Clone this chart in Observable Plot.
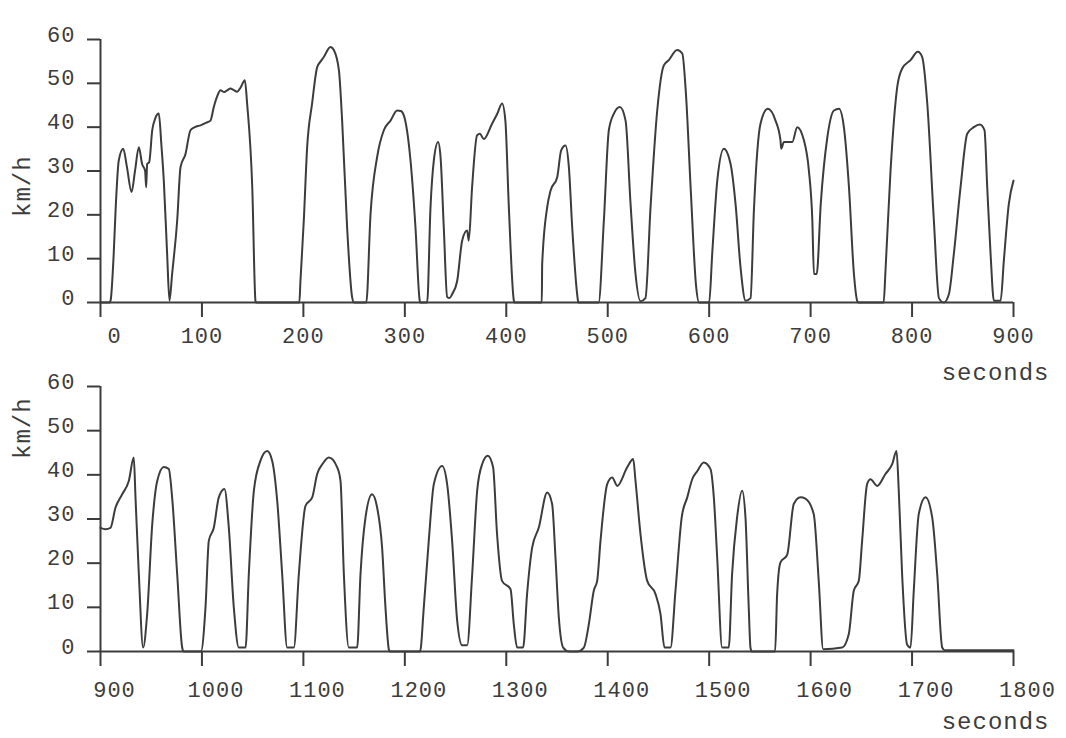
<!DOCTYPE html>
<html>
<head>
<meta charset="utf-8">
<script src="https://cdn.jsdelivr.net/npm/d3@7"></script>
<script src="https://cdn.jsdelivr.net/npm/@observablehq/plot@0.6"></script>
<style>
  body { margin: 0; background: #fff; }
  #chart { width: 1066px; height: 738px; position: relative; }
  #chart svg { overflow: visible; display: block; }
  #chart svg text { letter-spacing: 1px; }
</style>
</head>
<body>
<div id="chart"></div>
<script>
// ---------- data (seconds, km/h) ----------
const topTime = [0, 9, 10, 13, 15, 18, 22.4, 26, 30.6, 34, 37.8, 41, 44, 45, 46, 48, 51, 54, 57.5, 60, 62.4, 65.7, 68, 70.6, 75.6, 78.9, 83.8, 88.7, 93, 98.6, 104, 108.4, 111.7, 115, 118.3, 122, 124.9, 128.2, 131, 134.8, 138, 142.3, 144.6, 149.6, 152.8, 153.5,
  196, 197.1, 200.4, 203.7, 208.6, 213.6, 217, 220.1, 226.7, 230, 235, 238.2, 243.1, 248, 250,
  262, 266.2, 272.7, 279.3, 285.9, 292.5, 296, 299, 305.6, 310.5, 314.5, 315,
  322, 325.3, 328.6, 332.8, 335.2, 338.4, 341.7, 344, 346.6, 351.6, 356.5, 361.4, 363, 366.3, 371.2, 374, 377.8, 386, 391, 395.9, 399.1, 402.4, 407.3, 408,
  435, 435.4, 440.3, 443.6, 450.2, 454.1, 458.4, 461.7, 465, 470.5, 471,
  491, 496.2, 501.1, 506.1, 512, 517.6, 522.5, 527.4, 532.3, 537.2, 542.2, 548.8, 555.3, 560.2, 568.4, 573.5, 577, 582, 587, 590,
  600, 603, 608, 614.5, 621.1, 626, 630.9, 635.9, 640.8, 644.1, 650.6, 657.8, 665.4, 670.3, 671, 673.7, 681.9, 686.8, 693.4, 698.3, 701.7, 703.3, 706, 710, 716.5, 723, 728, 732.8, 737.8, 742.7, 746, 747,
  772, 773.8, 778.8, 785.4, 790.3, 798.5, 805.7, 810, 815, 821.5, 826.5, 831.3, 836.3, 841.2, 847.8, 854.4, 860.9, 866.8, 871.4, 874.1, 877.4, 880.7, 887.3, 890.5, 895.4, 900];
const topSpeed = [0, 0, 0.5, 11, 21.7, 32.4, 35.1, 31, 25.2, 30, 35.4, 31.6, 30, 26.3, 31.6, 32, 39.3, 42, 43.1, 36, 27.8, 11, 0.4, 6.5, 18.7, 30.9, 33.9, 39.3, 40, 40.4, 41, 41.5, 44.6, 47, 48.4, 48, 48.4, 48.8, 48.5, 48.1, 49, 50.7, 45.2, 26.3, 0.3, 0,
  0, 4.9, 18.7, 35.4, 45.4, 53.7, 55, 56, 58.3, 57.6, 53, 41.5, 17.1, 1.3, 0,
  0, 20.2, 33.2, 39.3, 41.5, 43.8, 43.7, 42.7, 32.4, 17.1, 0.7, 0,
  0, 21.7, 32.4, 36.6, 33.2, 17.1, 1.3, 1, 1.9, 4.9, 14.1, 16.4, 14.1, 26.3, 38.1, 38.5, 37.3, 40.8, 43, 45.4, 41.5, 22.5, 0.7, 0,
  0, 8.8, 21.7, 25.5, 28.6, 34.7, 35.8, 30.9, 17.1, 0.7, 0,
  0, 18.7, 39.3, 43.1, 44.6, 41.5, 22.5, 6.5, 0.3, 1, 21.7, 43.8, 54.1, 55.3, 57.6, 56.8, 48, 25, 4, 0,
  0, 11.1, 27.8, 35.1, 31.6, 22.5, 8.1, 0.4, 1, 21, 40.8, 44.2, 41.5, 37, 35.1, 36.6, 36.6, 40, 37, 30.1, 18.7, 6.5, 6.5, 22.5, 37.7, 43.8, 44.2, 40, 26.3, 6.5, 0.3, 0,
  0, 7.2, 30.1, 49.2, 53.4, 55.3, 57.2, 56, 45.4, 18.7, 1, 0, 1.9, 11.1, 26.3, 38.5, 40, 40.6, 39.3, 26.3, 11.1, 0.4, 0.4, 9.6, 22.5, 27.8];

const bottomTime = [900, 904.9, 909.8, 914.8, 921.4, 927.9, 932.8, 934.5, 937.8, 942, 946, 951, 955.9, 962.4, 967.3, 970.6, 975.6, 980.5, 982,
  999, 1003.5, 1006.8, 1011.7, 1016.6, 1022.2, 1026.5, 1031.4, 1036.3, 1043, 1046.2, 1051.2, 1057.7, 1064.3, 1069.2, 1074.2, 1079.1, 1084, 1090.6, 1095.5, 1102.1, 1108.7, 1113.6, 1119, 1125.1, 1133.3, 1136.6, 1139.9, 1144.8, 1153, 1156.3, 1161.2, 1167.7, 1172.7, 1177.6, 1180.9, 1184.2, 1185,
  1215, 1218.7, 1223.6, 1228.6, 1236.8, 1241.7, 1246.6, 1251.6, 1256.5, 1261.4, 1266.4, 1271.3, 1276.2, 1281.8, 1287, 1290.9, 1295.8, 1304.2, 1307.4, 1310.7, 1316.6, 1320.5, 1325.5, 1332, 1340.3, 1345.2, 1348.5, 1351.8, 1356.1, 1362, 1369.9, 1376.5, 1381.4, 1386.3, 1389.6, 1392.9, 1399.5, 1404.4, 1409.4, 1419.2, 1425.1, 1427.4, 1432.3, 1438.9, 1447.1, 1452, 1456, 1461.9, 1466.8, 1473, 1478.4, 1483.3, 1488.2, 1494.7, 1501.3, 1504.6, 1507.9, 1512.8, 1519.3, 1522.6, 1527.5, 1532.5, 1535.8, 1539, 1540.7, 1542,
  1565, 1567, 1570.3, 1576.9, 1583.4, 1590, 1594.9, 1603.1, 1608, 1612.4, 1631.1, 1637.6, 1642.6, 1647.5, 1650.8, 1655.7, 1659, 1665.6, 1673.8, 1680.4, 1684.7, 1686.9, 1690.2, 1695.1, 1698.5, 1701.7, 1706.6, 1713.3, 1719.9, 1724.8, 1729.7, 1732, 1800];
const bottomSpeed = [28, 27.7, 28, 32.6, 35.6, 38.6, 43.9, 34.9, 17.5, 0.9, 8.5, 28.8, 38.6, 41.8, 41.3, 34.9, 17.5, 0.9, 0,
  0, 10, 25.1, 28, 34.9, 36.8, 28, 10, 0.9, 0.9, 17.5, 36.4, 43.2, 45.4, 43.2, 34.1, 17.5, 0.9, 0.9, 17.5, 33, 34.9, 40.2, 42.5, 43.9, 41.7, 38.6, 17.5, 0.9, 0.9, 17.5, 30.3, 35.6, 32.6, 23.5, 10, 0.5, 0,
  0, 10, 25.1, 37.9, 42, 37.9, 25.1, 7, 1.4, 1.4, 17.5, 36.4, 42.4, 44.3, 41.7, 26.6, 16, 14.1, 6.2, 0.9, 0.9, 13, 23.5, 28, 36, 33.4, 21.3, 7.7, 0.9, 0, 0, 0.9, 6.2, 13.8, 16, 25.1, 37.9, 39.4, 37.5, 41.7, 43.6, 38.6, 26.6, 16, 13, 8.5, 0.9, 0.9, 13.8, 30.5, 34.9, 39, 40.8, 42.8, 41.3, 34.9, 21.3, 0.9, 0.9, 17.5, 30.3, 36.4, 30.3, 10, 0.9, 0,
  0, 13, 20.2, 21.9, 33.4, 34.9, 34.6, 31.1, 16, 0.5, 0.9, 3.9, 13.8, 16, 25.1, 37.9, 39, 37.5, 40.2, 42.4, 45.4, 36.4, 17.5, 1.6, 0.9, 13.8, 31.1, 34.9, 30.3, 17.5, 0.9, 0.3, 0.3];

const topTicks = [0, 100, 200, 300, 400, 500, 600, 700, 800, 900];
const bottomTicks = [900, 1000, 1100, 1200, 1300, 1400, 1500, 1600, 1700, 1800];
const speedTicks = [0, 10, 20, 30, 40, 50, 60];
const yLabel = "km/h";
const xLabel = "seconds";

// ---------- drawing ----------
const INK = "#3c3c3c";
const FONT = "'Liberation Mono', 'DejaVu Sans Mono', monospace";

function panel({time, speed, ticks, height, marginBottom, labelPad, labelDx, kmDy}) {
  const rows = time.map((t, i) => ({t, v: speed[i]}));
  const domain = [ticks[0], ticks[ticks.length - 1]];
  return Plot.plot({
    width: 1066,
    height,
    marginTop: 39,
    marginBottom,
    marginLeft: 100,
    marginRight: 53,
    x: {domain, label: null},
    y: {domain: [0, 60], label: null},
    style: {fontFamily: FONT, fontSize: "22px", color: INK, background: "transparent", overflow: "visible"},
    marks: [
      // axis lines
      Plot.ruleY([0], {stroke: INK, strokeWidth: 2}),
      Plot.ruleX([domain[0]], {y1: 0, y2: 60, stroke: INK, strokeWidth: 2}),
      // tick marks
      Plot.axisX(ticks, {tickSize: 15, tickFormat: () => "", strokeWidth: 2, label: null}),
      Plot.axisY(speedTicks, {tickSize: 13, tickFormat: () => "", strokeWidth: 2, label: null}),
      // tick labels
      Plot.axisX(ticks, {tickSize: 0, tickPadding: labelPad, dx: labelDx, label: null,
        tickFormat: d => String(d).padStart(3, "\u00a0"), fontSize: 22}),
      Plot.axisY(speedTicks, {tickSize: 0, tickPadding: 25, dy: -5, label: null, fontSize: 22}),
      // data
      Plot.line(rows, {x: "t", y: "v", curve: "monotone-x", stroke: INK, strokeWidth: 2}),
      // axis titles
      Plot.text([yLabel], {text: d => d, frameAnchor: "left", rotate: -90, dx: -78, dy: kmDy, fontSize: 24, fill: INK}),
      Plot.text([xLabel], {text: d => d, frameAnchor: "bottom-right", textAnchor: "end", dx: 36, dy: 77, fontSize: 24, fill: INK})
    ]
  });
}

const root = document.getElementById("chart");
root.append(panel({time: topTime, speed: topSpeed, ticks: topTicks, height: 347, marginBottom: 45, labelPad: 25, labelDx: 0, kmDy: 46}));
root.append(panel({time: bottomTime, speed: bottomSpeed, ticks: bottomTicks, height: 391, marginBottom: 87, labelPad: 30, labelDx: 14, kmDy: -60}));
</script>
</body>
</html>
